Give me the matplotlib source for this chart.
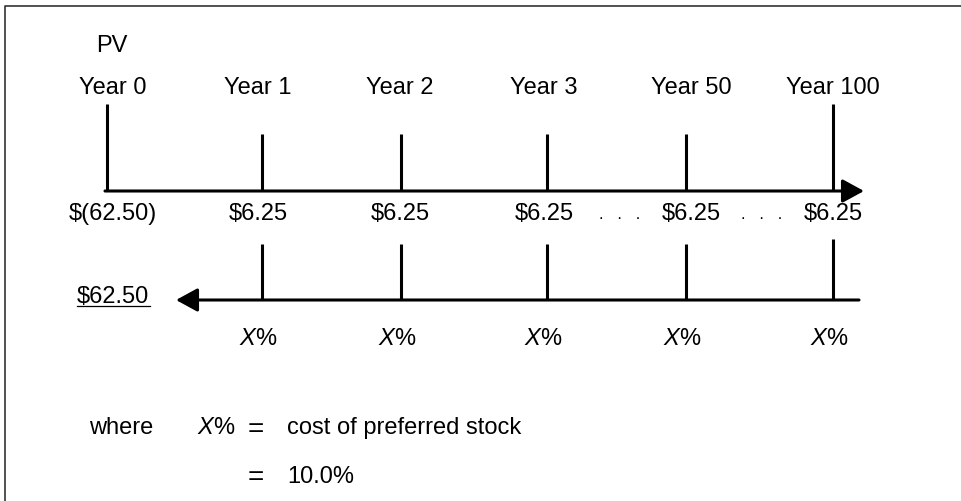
import matplotlib.pyplot as plt

plt.rcParams['font.family'] = ['Liberation Sans', 'DejaVu Sans']
plt.rcParams['mathtext.fontset'] = 'custom'
plt.rcParams['mathtext.it'] = 'Liberation Sans:italic'
plt.rcParams['mathtext.rm'] = 'Liberation Sans'

# data
years = ['Year 0', 'Year 1', 'Year 2', 'Year 3', 'Year 50', 'Year 100']
cash_flows = [r'\$(62.50)', r'\$6.25', r'\$6.25', r'\$6.25', r'\$6.25', r'\$6.25']
pv_label = r'\$62.50'
rate_label = r'$X$%'
cost_of_preferred = '10.0%'

# layout (pixel coordinates, y downwards)
tick_x = [107, 262, 401, 547, 686, 833]
label_x = [113, 258, 400, 544, 691, 833]
top_y = 191
bot_y = 300
fs = 17

fig = plt.figure(figsize=(9.61, 5.01), dpi=100)
ax = fig.add_axes([0, 0, 1, 1])
ax.set_xlim(0, 961)
ax.set_ylim(501, 0)
ax.axis('off')

# frame (top + left only)
ax.plot([5, 5, 961], [501, 6, 6], color='#333333', lw=1.2)

ax.text(112, 52, 'PV', fontsize=fs, ha='center', va='baseline')

# top timeline with cash flows
ax.annotate('', xy=(864, top_y), xytext=(105, top_y),
            arrowprops=dict(arrowstyle='-|>,head_length=0.55,head_width=0.3',
                            lw=2.2, color='black', shrinkA=0, shrinkB=0,
                            mutation_scale=24))
for i, (x, lx) in enumerate(zip(tick_x, label_x)):
    top = 104 if i in (0, len(tick_x) - 1) else 134
    ax.plot([x, x], [top, top_y], color='black', lw=2.2, solid_capstyle='butt')
    ax.text(lx, 94, years[i], fontsize=fs, ha='center', va='baseline')
    ax.text(lx, 220, cash_flows[i], fontsize=fs, ha='center', va='baseline')

for dx in [620, 762]:
    ax.text(dx, 219, '.   .   .', fontsize=fs - 5, ha='center', va='baseline')

# bottom timeline, discounting back
ax.annotate('', xy=(176, bot_y), xytext=(859, bot_y),
            arrowprops=dict(arrowstyle='-|>,head_length=0.55,head_width=0.3',
                            lw=2.2, color='black', shrinkA=0, shrinkB=0,
                            mutation_scale=24))
for i, x in enumerate(tick_x[1:]):
    top = 239 if i == len(tick_x) - 2 else 244
    ax.plot([x, x], [top, bot_y], color='black', lw=2.2, solid_capstyle='butt')
    ax.text(x - 4, 345, rate_label, fontsize=fs, ha='center', va='baseline')

ax.text(113, 303, pv_label, fontsize=fs, ha='center', va='baseline')
ax.plot([77, 150], [305.5, 305.5], color='black', lw=0.9)

# legend text
ax.text(121, 434, 'where', fontsize=fs, ha='center', va='baseline')
ax.text(197, 434, rate_label, fontsize=fs, ha='left', va='baseline')
ax.text(256, 437, '=', fontsize=fs + 3, ha='center', va='baseline')
ax.text(287, 434, 'cost of preferred stock', fontsize=fs, ha='left', va='baseline')
ax.text(256, 485, '=', fontsize=fs + 3, ha='center', va='baseline')
ax.text(287, 483, cost_of_preferred, fontsize=fs, ha='left', va='baseline')

fig.savefig('out.png', dpi=100)
